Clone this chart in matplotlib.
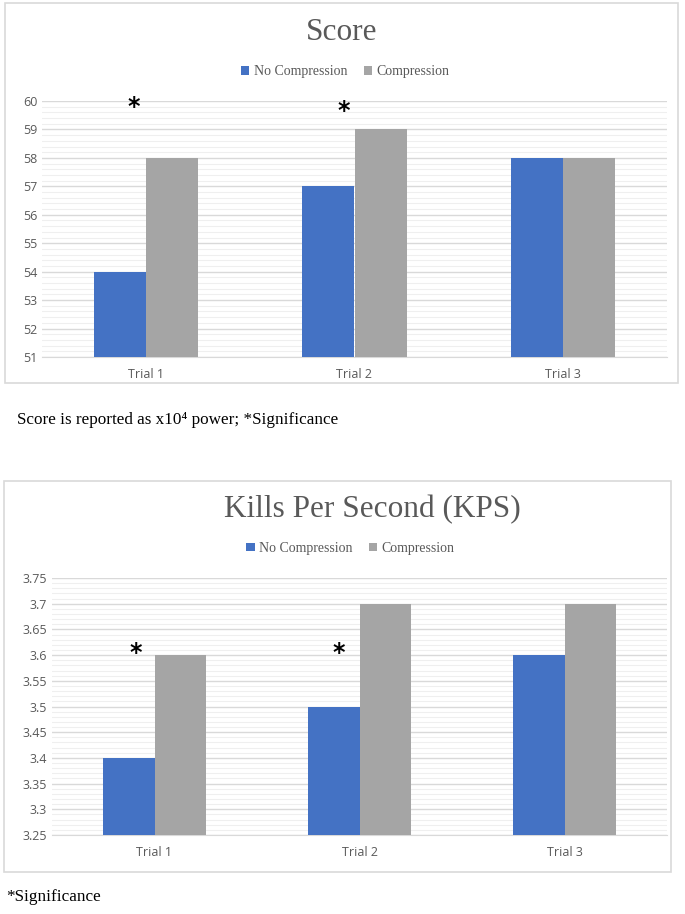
import numpy as np
import matplotlib
matplotlib.use("Agg")
import matplotlib.pyplot as plt
from matplotlib.patches import Rectangle
from matplotlib.ticker import MultipleLocator

trials = ['Trial 1', 'Trial 2', 'Trial 3']
series_names = ['No Compression', 'Compression']
score_no = [54, 57, 58]
score_comp = [58, 59, 58]
kps_no = [3.4, 3.5, 3.6]
kps_comp = [3.6, 3.7, 3.7]
score_sig = [0, 1]   # trials with significance marks
kps_sig = [0, 1]

BLUE = '#4472c4'
GRAY = '#a5a5a5'
TXT = '#595959'
SERIF = ['Liberation Serif', 'DejaVu Serif']
SANS = ['Open Sans', 'DejaVu Sans']

W, H = 685, 914
fig = plt.figure(figsize=(W / 100, H / 100), dpi=100)


def px_axes(left, top, right, bottom):
    return fig.add_axes([left / W, 1 - bottom / H, (right - left) / W, (bottom - top) / H])


def box(left, top, right, bottom):
    fig.patches.append(Rectangle((left / W, 1 - bottom / H), (right - left) / W, (bottom - top) / H,
                                 transform=fig.transFigure, fill=False, edgecolor='#d9d9d9', lw=1.2))


def bar_chart(ax, no, comp, ylo, yhi, major, minor, sig, sig_xy, fmt):
    x = np.arange(len(trials))
    w = 0.25
    ax.bar(x - w / 2, np.array(no) - ylo, w, bottom=ylo, color=BLUE, label=series_names[0], zorder=3)
    ax.bar(x + w / 2, np.array(comp) - ylo, w, bottom=ylo, color=GRAY, label=series_names[1], zorder=3)
    ax.set_xlim(-0.5, 2.5)
    ax.set_ylim(ylo, yhi)
    ax.yaxis.set_major_locator(MultipleLocator(major))
    ax.yaxis.set_minor_locator(MultipleLocator(minor))
    ax.yaxis.set_major_formatter(matplotlib.ticker.FuncFormatter(fmt))
    ax.grid(which='major', axis='y', color='#d9d9d9', lw=1.0, zorder=0)
    ax.grid(which='minor', axis='y', color='#efefef', lw=0.8, zorder=0)
    for s in ['top', 'right', 'left']:
        ax.spines[s].set_visible(False)
    ax.spines['bottom'].set_color('#d9d9d9')
    ax.tick_params(axis='both', which='both', length=0, colors=TXT, labelsize=9)
    ax.tick_params(axis='x', pad=8)
    ax.set_xticks(x)
    ax.set_xticklabels(trials)
    for lab in ax.get_xticklabels() + ax.get_yticklabels():
        lab.set_family(SANS)
    for i, (sx, sy) in zip(sig, sig_xy):
        ax.text(sx, sy, '*', ha='center', va='center', fontsize=17, fontweight='bold',
                color='black', zorder=4)
    leg = ax.legend(loc='center', bbox_to_anchor=(0.485, 1.115), ncol=2, frameon=False,
                    handlelength=0.6, handleheight=0.6, handletextpad=0.3, columnspacing=1.2,
                    prop={'family': SERIF, 'size': 10})
    for t in leg.get_texts():
        t.set_color(TXT)


# Score chart
box(5, 3, 678, 383)
ax1 = px_axes(42, 101, 667, 357)
bar_chart(ax1, score_no, score_comp, 51, 60, 1, 0.2, score_sig,
          [(-0.06, 59.78), (0.95, 59.64)], lambda v, p: f'{v:g}')
fig.text(342 / W, 1 - 33 / H, 'Score', ha='center', va='center', fontsize=22.5,
         family=SERIF, color=TXT)
fig.text(17 / W, 1 - 420 / H, 'Score is reported as x10\u2074 power; *Significance',
         ha='left', va='center', fontsize=12.3, family=SERIF, color='black')

# KPS chart
box(4, 481, 671, 872)
ax2 = px_axes(52, 578, 667, 835)
bar_chart(ax2, kps_no, kps_comp, 3.25, 3.75, 0.05, 0.01, kps_sig,
          [(-0.09, 3.605), (0.9, 3.605)], lambda v, p: f'{round(v, 2):g}')
fig.text(372 / W, 1 - 510 / H, 'Kills Per Second (KPS)', ha='center', va='center', fontsize=22.5,
         family=SERIF, color=TXT)
fig.text(6 / W, 1 - 897 / H, '*Significance', ha='left', va='center', fontsize=12.3,
         family=SERIF, color='black')

fig.savefig('out.png', dpi=100)
